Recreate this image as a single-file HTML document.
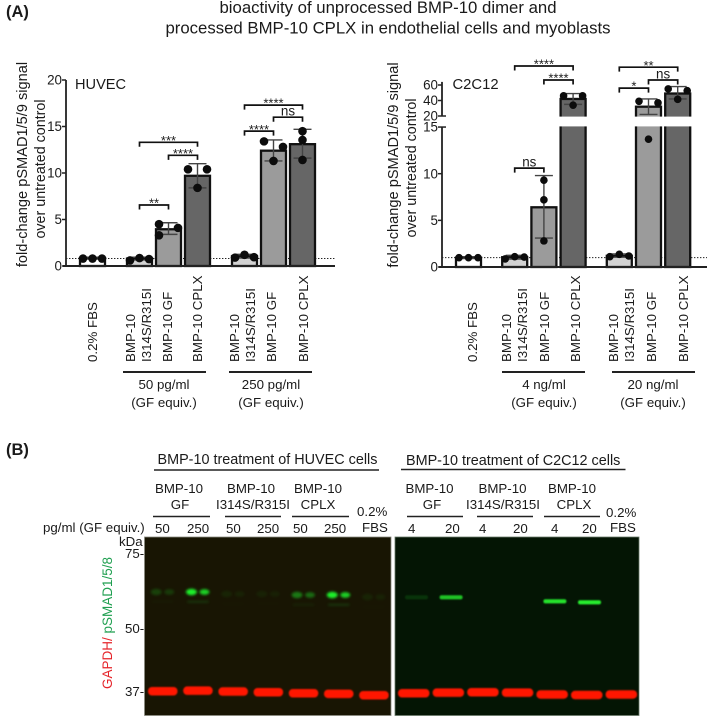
<!DOCTYPE html>
<html>
<head>
<meta charset="utf-8">
<title>BMP-10 bioactivity figure</title>
<style>
html,body{margin:0;padding:0;background:#fff;width:709px;height:716px;overflow:hidden}
svg{display:block;filter:blur(0.35px)}
text{font-family:"Liberation Sans",Arial,sans-serif;fill:#1a1a1a}
</style>
</head>
<body>
<svg id="fig" xmlns="http://www.w3.org/2000/svg" width="709" height="716" viewBox="0 0 709 716">
<defs>
<filter id="blurRed" x="-20%" y="-100%" width="140%" height="300%"><feGaussianBlur stdDeviation="0.8"/></filter>
<filter id="blurGreen" x="-60%" y="-100%" width="220%" height="300%"><feGaussianBlur stdDeviation="1.3"/></filter>
<filter id="blurThin" x="-20%" y="-200%" width="140%" height="500%"><feGaussianBlur stdDeviation="0.8"/></filter>
</defs>

<text x="6" y="17" font-size="16.5" font-weight="bold">(A)</text>
<text x="388" y="13" font-size="16.75" text-anchor="middle">bioactivity of unprocessed BMP-10 dimer and</text>
<text x="388" y="33.5" font-size="16.75" text-anchor="middle">processed BMP-10 CPLX in endothelial cells and myoblasts</text>

<!-- y axis titles -->
<text transform="translate(27,164.5) rotate(-90)" font-size="14.6" text-anchor="middle">fold-change pSMAD1/5/9 signal</text>
<text transform="translate(45,169) rotate(-90)" font-size="14.3" text-anchor="middle">over untreated control</text>
<text transform="translate(398,165) rotate(-90)" font-size="14.6" text-anchor="middle">fold-change pSMAD1/5/9 signal</text>
<text transform="translate(416,168) rotate(-90)" font-size="14.3" text-anchor="middle">over untreated control</text>

<text x="75" y="89" font-size="14.6">HUVEC</text>
<text x="452.5" y="89" font-size="14.8">C2C12</text>

<g id="chartHuvec"></g>
<g id="chartC2c12"></g>

<!-- x category labels : HUVEC -->
<g font-size="13.3">
<text transform="translate(97,362) rotate(-90)">0.2% FBS</text>
<text transform="translate(135,362) rotate(-90)">BMP-10</text>
<text transform="translate(151,362) rotate(-90)">I314S/R315I</text>
<text transform="translate(172,362) rotate(-90)">BMP-10 GF</text>
<text transform="translate(202,362) rotate(-90)">BMP-10 CPLX</text>
<text transform="translate(239,362) rotate(-90)">BMP-10</text>
<text transform="translate(255,362) rotate(-90)">I314S/R315I</text>
<text transform="translate(276,362) rotate(-90)">BMP-10 GF</text>
<text transform="translate(308,362) rotate(-90)">BMP-10 CPLX</text>
</g>
<!-- x category labels : C2C12 -->
<g font-size="13.3">
<text transform="translate(477,362) rotate(-90)">0.2% FBS</text>
<text transform="translate(511,362) rotate(-90)">BMP-10</text>
<text transform="translate(527,362) rotate(-90)">I314S/R315I</text>
<text transform="translate(549,362) rotate(-90)">BMP-10 GF</text>
<text transform="translate(580,362) rotate(-90)">BMP-10 CPLX</text>
<text transform="translate(618,362) rotate(-90)">BMP-10</text>
<text transform="translate(634,362) rotate(-90)">I314S/R315I</text>
<text transform="translate(656,362) rotate(-90)">BMP-10 GF</text>
<text transform="translate(688,362) rotate(-90)">BMP-10 CPLX</text>
</g>

<!-- dose groups -->
<g stroke="#222" stroke-width="2">
<line x1="123" x2="206" y1="372" y2="372"/>
<line x1="229" x2="312" y1="372" y2="372"/>
<line x1="502" x2="585" y1="372" y2="372"/>
<line x1="612" x2="695" y1="372" y2="372"/>
</g>
<g font-size="13.3" text-anchor="middle">
<text x="164" y="389">50 pg/ml</text>
<text x="164" y="407">(GF equiv.)</text>
<text x="271" y="389">250 pg/ml</text>
<text x="271" y="407">(GF equiv.)</text>
<text x="544" y="389">4 ng/ml</text>
<text x="544" y="407">(GF equiv.)</text>
<text x="653" y="389">20 ng/ml</text>
<text x="653" y="407">(GF equiv.)</text>
</g>

<!-- Panel B -->
<text x="6" y="455" font-size="16.5" font-weight="bold">(B)</text>
<text x="157.5" y="464" font-size="14.4">BMP-10 treatment of HUVEC cells</text>
<line x1="154" x2="379" y1="470" y2="470" stroke="#222" stroke-width="1.6"/>
<text x="406" y="465" font-size="14.4">BMP-10 treatment of C2C12 cells</text>
<line x1="401" x2="625.5" y1="469.5" y2="469.5" stroke="#222" stroke-width="1.6"/>

<g font-size="13.3" text-anchor="middle">
<text x="179" y="493">BMP-10</text>
<text x="180" y="509">GF</text>
<text x="251" y="493">BMP-10</text>
<text x="253" y="509">I314S/R315I</text>
<text x="318" y="493">BMP-10</text>
<text x="318" y="509">CPLX</text>
<text x="429.5" y="493">BMP-10</text>
<text x="432" y="509">GF</text>
<text x="502.5" y="493">BMP-10</text>
<text x="503" y="509">I314S/R315I</text>
<text x="572" y="493">BMP-10</text>
<text x="574" y="509">CPLX</text>
</g>
<g stroke="#222" stroke-width="1.6">
<line x1="153" x2="210" y1="516.5" y2="516.5"/>
<line x1="225" x2="281" y1="516.5" y2="516.5"/>
<line x1="292" x2="349" y1="516.5" y2="516.5"/>
<line x1="407" x2="463" y1="516.5" y2="516.5"/>
<line x1="477" x2="533" y1="516.5" y2="516.5"/>
<line x1="544" x2="600" y1="516.5" y2="516.5"/>
</g>
<g font-size="13.3">
<text x="43" y="532">pg/ml (GF equiv.)</text>
<text x="155" y="533">50</text>
<text x="187" y="533">250</text>
<text x="226" y="533">50</text>
<text x="257" y="533">250</text>
<text x="293" y="533">50</text>
<text x="324" y="533">250</text>
<text x="357" y="516">0.2%</text>
<text x="362" y="532">FBS</text>
<text x="408" y="533">4</text>
<text x="445" y="533">20</text>
<text x="479" y="533">4</text>
<text x="513" y="533">20</text>
<text x="551" y="533">4</text>
<text x="582" y="533">20</text>
<text x="606" y="517">0.2%</text>
<text x="610" y="532">FBS</text>
</g>
<g font-size="13.3">
<text x="119" y="546">kDa</text>
<text x="125" y="558">75-</text>
<text x="125" y="633">50-</text>
<text x="125" y="696">37-</text>
</g>
<text transform="translate(112,689) rotate(-90)" font-size="13.5"><tspan style="fill:#e5242a">GAPDH/</tspan><tspan style="fill:#1f9f50"> pSMAD1/5/8</tspan></text>

<rect x="144.5" y="537" width="246.5" height="178.5" fill="#181503" stroke="#8a8a80" stroke-width="0.8"/>
<rect x="395" y="537" width="244" height="178.5" fill="#041504" stroke="#6a7a6a" stroke-width="0.8"/>
<g id="blotBands"></g>
</svg>

<script>
// ---------- HUVEC chart data ----------
const categories = ["0.2% FBS","BMP-10 I314S/R315I","BMP-10 GF","BMP-10 CPLX","BMP-10 I314S/R315I","BMP-10 GF","BMP-10 CPLX"];
const categoryGroups = [0,1,1,1,2,2,2];
const barFills = ["#ffffff","#d2d2d2","#9b9b9b","#666666","#d2d2d2","#9b9b9b","#666666"];

const huvecTicks = [0,5,10,15,20];
const huvecMeans = [0.85,0.8,3.95,9.7,1.05,12.4,13.1];
const huvecErrLow = [0.75,0.65,3.4,8.4,0.85,11.3,11.6];
const huvecErrHigh = [0.95,0.95,4.65,11,1.25,13.55,14.7];
const huvecPoints = [[0.8,0.8,0.8],[0.6,0.85,0.75],[4.5,3.3,4.1],[10.4,8.4,10.4],[0.9,1.2,0.95],[13.4,11.3,12.8],[14.5,13.55,11.4]];
const huvecPointSlots = [[-1,0,1],[-1,0,1],[-1,-1,1],[-1,0,1],[-1,0,1],[-1,0,1],[0,0,0]];
const huvecBaseline = 0.8;
const huvecBrackets = [[1,2,6.56,"**"],[2,3,11.9,"****"],[1,3,13.3,"***"],[4,5,14.5,"****"],[5,6,16,"ns"],[4,6,17.3,"****"]];

// ---------- C2C12 chart data ----------
const c2c12TicksLower = [0,5,10,15];
const c2c12TicksUpper = [20,40,60];
const c2c12Means = [1.0,1.05,6.4,42,1.2,32,49];
const c2c12ErrLow = [0.9,0.85,3.1,35,1.05,22,42];
const c2c12ErrHigh = [1.1,1.25,9.8,49,1.4,42,58];
const c2c12Points = [[1,1,1],[0.86,1.1,1.07],[9.3,7.2,2.8],[46,34,46],[1.1,1.36,1.18],[39,13.7,37],[55,41.5,52.7]];
const c2c12PointSlots = [[-1,0,1],[-1,0,1],[0,0,0],[-1,0,1],[-1,0,1],[-1,0,1],[-1,0,1]];
const c2c12Baseline = 1;
const c2c12Brackets = [[1,2,10.6,"ns"],[2,3,66.5,"****"],[1,3,84.5,"****"],[4,5,56,"*"],[5,6,66.5,"ns"],[4,6,83,"**"]];

// ---------- blot data (relative band intensities per lane) ----------
const huvecGreenIntensity = [0.2,1,0.07,0.06,0.45,1,0.07];
const c2c12GreenIntensity = [0.14,0.8,0,0,0.95,1,0];

// ---------- axis functions ----------
function huvecY(v){ return 266 - v * 9.3; }
function huvecX(i){ return 80 + 29 * i + 18 * categoryGroups[i]; }
function c2c12Y(v){
  if (v <= 15) return 267 - v * 9.33;
  if (v >= 20) return 116 - (v - 20) * 0.775;
  return 127 - (v - 15) * 2.2;
}
function c2c12X(i){ return 456 + 29.2 * i + 17 * categoryGroups[i]; }

const NS = "http://www.w3.org/2000/svg";
function mk(parent, tag, props){
  const el = document.createElementNS(NS, tag);
  for (const k in props) el.setAttribute(k, props[k]);
  
  parent.appendChild(el);
  return el;
}

function drawSeries(g, opt){
  const bw = 25, hw = bw / 2;
  // dotted baseline
  const dot = mk(g, 'line', {x1:opt.x0, x2:opt.x1, y1:opt.y(opt.baseline), y2:opt.y(opt.baseline), stroke:'#222', 'stroke-width':1, 'stroke-dasharray':'1.4 1.6'});
  

  opt.means.forEach(function(m, i){
    const left = opt.x(i), top = opt.y(m), base = opt.y(0);
    const bar = mk(g, 'rect', {x:left, y:top, width:bw, height:base - top, fill:barFills[i], stroke:'#111', 'stroke-width':2.3});
    
  });

  opt.means.forEach(function(m, i){
    const cx = opt.x(i) + hw, yl = opt.y(opt.low[i]), yh = opt.y(opt.high[i]);
    const stem = mk(g, 'line', {x1:cx, x2:cx, y1:yl, y2:yh, stroke:'#444', 'stroke-width':1.4});
    
    const capT = mk(g, 'line', {x1:cx - 9, x2:cx + 9, y1:yh, y2:yh, stroke:'#444', 'stroke-width':1.4});
    
    const capB = mk(g, 'line', {x1:cx - 9, x2:cx + 9, y1:yl, y2:yl, stroke:'#444', 'stroke-width':1.4});
    
    opt.points[i].forEach(function(p, j){
      const c = mk(g, 'circle', {cx:cx + opt.slots[i][j] * 9.5, cy:opt.y(p), r:opt.r, fill:'#0c0c0c'});
      
    });
  });

  if (opt.breakGap) {
    const gap = mk(g, 'rect', {x:opt.x0 - 4, y:opt.breakGap[0], width:opt.x1 - opt.x0 + 10, height:opt.breakGap[1] - opt.breakGap[0], fill:'#fff'});
    
  }

  // x axis
  const ax = mk(g, 'line', {x1:opt.x0 - 3, x2:opt.x1, y1:opt.y(0), y2:opt.y(0), stroke:'#222', 'stroke-width':2});
  

  // y axis segments + ticks
  opt.segments.forEach(function(seg){
    const a = mk(g, 'line', {x1:opt.x0, x2:opt.x0, y1:opt.y(seg[0]), y2:opt.y(seg[1]), stroke:'#222', 'stroke-width':1.8});
    
  });
  opt.ticks.forEach(function(t){
    const y = opt.y(t);
    const long = opt.longTicks && opt.longTicks.indexOf(t) >= 0;
    const tk = mk(g, 'line', {x1:opt.x0 - 4, x2:opt.x0 + (long ? 4 : 0), y1:y, y2:y, stroke:'#222', 'stroke-width':1.5});
    
    const lb = mk(g, 'text', {x:opt.x0 - 4, y:y + 4.6, 'font-size':13.4, 'text-anchor':'end'});
    
    lb.textContent = t;
  });

  // significance brackets
  opt.brackets.forEach(function(b){
    const xa = opt.x(b[0]) + hw, xb = opt.x(b[1]) + hw, y = opt.y(b[2]);
    const br = mk(g, 'path', {d:'M' + xa + ' ' + (y + 4.5) + 'V' + y + 'H' + xb + 'V' + (y + 4.5), fill:'none', stroke:'#111', 'stroke-width':1.7});
    
    const isNs = b[3] === 'ns';
    const tx = mk(g, 'text', {x:(xa + xb) / 2, y:isNs ? y - 1.7 : y + 2.6, 'font-size':isNs ? 13.4 : 13, 'text-anchor':'middle'});
    
    tx.textContent = b[3];
  });
}

drawSeries(document.getElementById('chartHuvec'), {
  x:huvecX, y:huvecY, x0:66, x1:335, r:4.3,
  baseline:huvecBaseline, means:huvecMeans, low:huvecErrLow, high:huvecErrHigh,
  points:huvecPoints, slots:huvecPointSlots, ticks:huvecTicks, segments:[[0,20]],
  brackets:huvecBrackets
});
drawSeries(document.getElementById('chartC2c12'), {
  x:c2c12X, y:c2c12Y, x0:442, x1:707, r:3.8,
  baseline:c2c12Baseline, means:c2c12Means, low:c2c12ErrLow, high:c2c12ErrHigh,
  points:c2c12Points, slots:c2c12PointSlots, ticks:c2c12TicksLower.concat(c2c12TicksUpper),
  segments:[[0,15],[20,64]], longTicks:[15,20], breakGap:[116.6,126.4],
  brackets:c2c12Brackets
});

// ---------- blot bands ----------
const blot = document.getElementById('blotBands');
function laneX(i, c2){ return c2 ? 398 + 34.6 * i : 148 + 35.2 * i; }
function laneW(c2){ return c2 ? 31.5 : 29.5; }
const huvecRedOffset = [0,-0.6,0.3,1,2,2.6,4];
const c2c12RedOffset = [0,-0.6,-1,-0.6,1.2,1.8,1.2];
const huvecGreenOffset = [0,0,2,2,3,3,5];
const c2c12GreenOffset = [0,0,0,0,4,5,0];

huvecRedOffset.forEach(function(d, i){
  const r = mk(blot, 'rect', {x:laneX(i,false), y:687 + d, width:laneW(false), height:8.5, rx:4, fill:'#ff1205', filter:'url(#blurRed)'});
  
});
c2c12RedOffset.forEach(function(d, i){
  const r = mk(blot, 'rect', {x:laneX(i,true), y:689 + d, width:laneW(true), height:8.5, rx:4, fill:'#ff1205', filter:'url(#blurRed)'});
  
});
huvecGreenIntensity.forEach(function(v, i){
  const cx = laneX(i,false) + laneW(false) / 2, cy = 592 + huvecGreenOffset[i];
  const b1 = mk(blot, 'ellipse', {cx:cx - 6.5, cy:cy, rx:5.5, ry:3.2, fill:'#1cf02a', opacity:v, filter:'url(#blurGreen)'});
  
  const b2 = mk(blot, 'ellipse', {cx:cx + 6.5, cy:cy, rx:5, ry:2.9, fill:'#1cf02a', opacity:v * 0.85, filter:'url(#blurGreen)'});
  
  const f = mk(blot, 'rect', {x:cx - 11, y:cy + 8.5, width:22, height:2.5, rx:1.2, fill:'#1fa02a', opacity:v * 0.2, filter:'url(#blurGreen)'});
  
});
c2c12GreenIntensity.forEach(function(v, i){
  if (v === 0) return;
  const b = mk(blot, 'rect', {x:laneX(i,true) + 7, y:595.2 + c2c12GreenOffset[i], width:23, height:4.2, rx:2, fill:'#26ee2e', opacity:v, filter:'url(#blurThin)'});
  
});
</script>
</body>
</html>
